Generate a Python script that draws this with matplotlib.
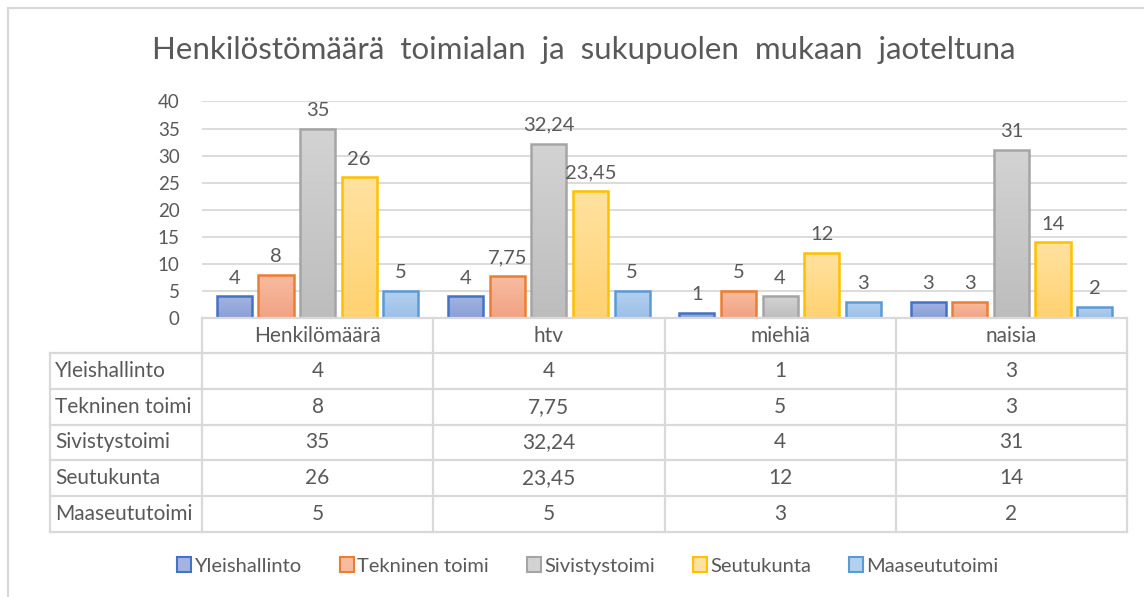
import numpy as np
import matplotlib
matplotlib.use("Agg")
import matplotlib.pyplot as plt
from matplotlib.patches import Patch, Rectangle
from matplotlib.lines import Line2D

# data
categories = ["Henkilömäärä", "htv", "miehiä", "naisia"]
series_names = ["Yleishallinto", "Tekninen toimi", "Sivistystoimi", "Seutukunta", "Maaseututoimi"]
yleishallinto = [4, 4, 1, 3]
tekninen = [8, 7.75, 5, 3]
sivistys = [35, 32.24, 4, 31]
seutukunta = [26, 23.45, 12, 14]
maaseutu = [5, 5, 3, 2]
series_values = [yleishallinto, tekninen, sivistys, seutukunta, maaseutu]
title = "Henkilöstömäärä toimialan ja sukupuolen mukaan jaoteltuna"
yticks = list(range(0, 41, 5))

# styles: (edge, top fill, bottom fill)
styles = [
    ("#4472c4", "#a3b4e2", "#8a9fd6"),
    ("#ed7d31", "#f7bca0", "#f2a283"),
    ("#a5a5a5", "#d3d3d3", "#bdbdbd"),
    ("#ffc000", "#ffe2a0", "#ffd271"),
    ("#5b9bd5", "#b4d0ef", "#9cc0e8"),
]
text_col = "#595959"
grid_col = "#d9d9d9"
FONT = "Lato"

W, H = 1144, 597
fig = plt.figure(figsize=(W / 100, H / 100), dpi=100)
fig.patch.set_facecolor("white")


def fx(px):
    return px / W


def fy(py):
    return 1 - py / H


# chart border
fig.add_artist(Rectangle((fx(8), fy(H + 5)), fx(W + 5 - 8), (H + 5 - 8) / H,
                         transform=fig.transFigure, fill=False,
                         edgecolor=grid_col, linewidth=1.6))

# title is drawn with wider word spacing like the original
fig.text(fx(584), fy(50), title.replace(" ", "  "), ha="center", va="center",
         fontsize=22.5, color=text_col, family=FONT)

left, right, top, bottom = 202, 1127, 101.5, 318
ax = fig.add_axes([fx(left), fy(bottom), fx(right - left), (bottom - top) / H])
ax.set_xlim(-0.5, len(categories) - 0.5)
ax.set_ylim(0, 40)
ax.set_yticks(yticks)
ax.set_yticklabels([str(t) for t in yticks], family=FONT, fontsize=13.5, color=text_col)
ax.tick_params(axis="y", length=0, pad=16)
ax.set_xticks([])
for s in ax.spines.values():
    s.set_visible(False)
ax.grid(axis="y", color=grid_col, linewidth=1.3)
ax.set_axisbelow(True)

bw = 0.152
pitch = 0.18
grad = np.linspace(0, 1, 64).reshape(-1, 1)
x = np.arange(len(categories))
for i, vals in enumerate(series_values):
    edge, ctop, cbot = styles[i]
    cmap = matplotlib.colors.LinearSegmentedColormap.from_list("g%d" % i, [cbot, ctop])
    pos = x + (i - 2) * pitch
    bars = ax.bar(pos, vals, width=bw, color="none", edgecolor=edge, linewidth=1.8, zorder=3)
    for b, v in zip(bars, vals):
        im = ax.imshow(grad, cmap=cmap, aspect="auto", origin="lower",
                       extent=(b.get_x(), b.get_x() + b.get_width(), 0, v), zorder=2)
        im.set_clip_path(b)
        lab = str(v).replace(".", ",")
        ax.annotate(lab, (b.get_x() + b.get_width() / 2, v), xytext=(0, 7),
                    textcoords="offset points", ha="center", va="bottom",
                    fontsize=14.5, color=text_col, family=FONT, zorder=4)
ax.set_xlim(-0.5, len(categories) - 0.5)
ax.set_ylim(0, 40)

# data table
tab_left = 50
row_h = 35.8
col_w = (right - left) / len(categories)
head_top = bottom
head_bot = head_top + 35
lw = 1.6


def hline(y, x0, x1):
    fig.add_artist(Line2D([fx(x0), fx(x1)], [fy(y), fy(y)], transform=fig.transFigure,
                          color=grid_col, linewidth=lw))


def vline(xp, y0, y1):
    fig.add_artist(Line2D([fx(xp), fx(xp)], [fy(y0), fy(y1)], transform=fig.transFigure,
                          color=grid_col, linewidth=lw))


hline(head_top, left, right)
for r in range(len(series_names) + 1):
    hline(head_bot + r * row_h, tab_left, right)
tab_bot = head_bot + len(series_names) * row_h
vline(tab_left, head_bot, tab_bot)
for c in range(len(categories) + 1):
    vline(left + c * col_w, head_top, tab_bot)

for c, cat in enumerate(categories):
    fig.text(fx(left + (c + 0.5) * col_w), fy((head_top + head_bot) / 2), cat,
             ha="center", va="center", fontsize=15, color=text_col, family=FONT)
for r, name in enumerate(series_names):
    yc = head_bot + (r + 0.5) * row_h
    fig.text(fx(tab_left + 5), fy(yc), name, ha="left", va="center",
             fontsize=15, color=text_col, family=FONT)
    for c, v in enumerate(series_values[r]):
        fig.text(fx(left + (c + 0.5) * col_w), fy(yc), str(v).replace(".", ","),
                 ha="center", va="center", fontsize=15, color=text_col, family=FONT)

handles = [Patch(facecolor=st[1], edgecolor=st[0], linewidth=1.5) for st in styles]
fig.legend(handles, series_names, loc="center", bbox_to_anchor=(fx(588), fy(566)),
           ncol=5, frameon=False, handlelength=0.7, handleheight=0.7,
           handletextpad=0.15, columnspacing=1.9,
           prop={"family": FONT, "size": 14.5}, labelcolor=text_col)

fig.savefig("out.png", dpi=100, facecolor="white")
